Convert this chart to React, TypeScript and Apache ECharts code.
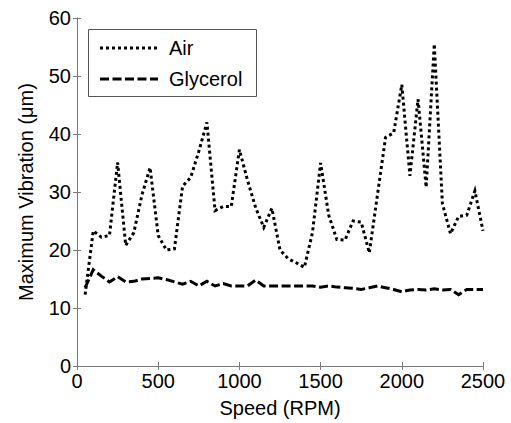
import React, { useEffect, useRef } from "react";
import * as echarts from "echarts";

const speeds = [
  50, 100, 150, 200, 250, 300, 350, 400, 450, 500,
  550, 600, 650, 700, 750, 800, 850, 900, 950, 1000,
  1050, 1100, 1150, 1200, 1250, 1300, 1350, 1400, 1450, 1500,
  1550, 1600, 1650, 1700, 1750, 1800, 1850, 1900, 1950, 2000,
  2050, 2100, 2150, 2200, 2250, 2300, 2350, 2400, 2450, 2500,
];

const airValues = [
  12.3, 23.3, 22.2, 22.5, 35.1, 20.8, 23.0, 29.5, 34.2, 22.5,
  20.0, 20.2, 31.0, 32.5, 37.0, 42.0, 26.8, 27.5, 27.5, 37.3,
  32.0, 27.3, 23.9, 27.2, 20.0, 18.5, 17.8, 17.0, 23.0, 35.0,
  26.0, 21.8, 21.7, 25.0, 24.8, 19.5, 29.5, 39.4, 40.2, 48.5,
  32.8, 46.0, 30.8, 55.5, 28.0, 22.8, 25.8, 26.0, 30.2, 23.3,
];

const glycerolValues = [
  13.5, 16.6, 15.5, 14.5, 15.4, 14.5, 14.6, 15.0, 15.1, 15.2,
  14.9, 14.5, 14.1, 14.6, 13.8, 14.6, 13.8, 14.2, 13.8, 13.8,
  13.8, 14.8, 13.8, 13.8, 13.8, 13.8, 13.8, 13.8, 13.8, 13.6,
  13.8, 13.6, 13.5, 13.4, 13.2, 13.5, 13.8, 13.5, 13.2, 12.8,
  13.1, 13.2, 13.1, 13.3, 13.1, 13.2, 12.3, 13.2, 13.2, 13.2,
];

const seriesNames = ["Air", "Glycerol"];
const xAxisTitle = "Speed (RPM)";
const yAxisTitle = "Maximum Vibration (\u03bcm)";

const FONT = "'Liberation Sans', Arial, Helvetica, sans-serif";
const FS = 20;
const AXIS_GRAY = "#7a7a7a";
const AIR_DASH = [3, 3];
const GLY_DASH = [9, 3.5];

export default function App() {
  const ref = useRef<HTMLDivElement>(null);

  useEffect(() => {
    if (!ref.current) return;
    const chart = echarts.init(ref.current, null, { renderer: "svg" });

    const baseAxis = {
      axisLine: { show: true, lineStyle: { color: AXIS_GRAY, width: 1 } },
      axisTick: { show: true, inside: true, length: 4, lineStyle: { color: AXIS_GRAY } },
      splitLine: { show: false },
    };

    const airData = speeds.map((s, i) => [s, airValues[i]]);
    const glyData = speeds.map((s, i) => [s, glycerolValues[i]]);

    chart.setOption({
      animation: false,
      backgroundColor: "#ffffff",
      textStyle: { fontFamily: FONT },
      grid: { left: 77, top: 18, right: 28, bottom: 55 },
      xAxis: [
        {
          type: "value",
          min: 0,
          max: 2500,
          interval: 500,
          position: "bottom",
          name: xAxisTitle,
          nameLocation: "middle",
          nameGap: 32,
          nameTextStyle: { fontSize: FS, color: "#000", fontFamily: FONT },
          axisLabel: {
            fontSize: FS,
            color: "#000",
            margin: 5,
            fontFamily: FONT,
            formatter: (v: number) => String(v),
          },
          ...baseAxis,
        },
        {
          type: "value",
          min: 0,
          max: 2500,
          interval: 500,
          position: "top",
          axisLabel: { show: false },
          ...baseAxis,
        },
      ],
      yAxis: [
        {
          type: "value",
          min: 0,
          max: 60,
          interval: 10,
          position: "left",
          name: yAxisTitle,
          nameLocation: "middle",
          nameGap: 41,
          nameTextStyle: { fontSize: FS, color: "#000", fontFamily: FONT },
          axisLabel: {
            fontSize: FS,
            color: "#000",
            margin: 6,
            fontFamily: FONT,
            formatter: (v: number) => String(v),
          },
          ...baseAxis,
        },
        {
          type: "value",
          min: 0,
          max: 60,
          interval: 10,
          position: "right",
          axisLabel: { show: false },
          ...baseAxis,
        },
      ],
      series: [
        {
          name: seriesNames[0],
          type: "line",
          xAxisIndex: 0,
          yAxisIndex: 0,
          data: airData,
          showSymbol: false,
          symbol: "none",
          lineStyle: { color: "#000", width: 3, type: AIR_DASH, cap: "butt", join: "miter" },
        },
        {
          name: seriesNames[1],
          type: "line",
          xAxisIndex: 0,
          yAxisIndex: 0,
          data: glyData,
          showSymbol: false,
          symbol: "none",
          lineStyle: { color: "#000", width: 3, type: GLY_DASH, cap: "butt", join: "miter" },
        },
      ],
      graphic: [
        {
          type: "rect",
          left: 88,
          top: 29,
          shape: { width: 168, height: 67 },
          style: { fill: "#fff", stroke: "#555", lineWidth: 1 },
          z: 100,
        },
        {
          type: "line",
          shape: { x1: 100, y1: 48, x2: 158, y2: 48 },
          style: { stroke: "#000", lineWidth: 3, lineDash: AIR_DASH },
          z: 101,
        },
        {
          type: "line",
          shape: { x1: 100, y1: 79, x2: 158, y2: 79 },
          style: { stroke: "#000", lineWidth: 3, lineDash: GLY_DASH },
          z: 101,
        },
        {
          type: "text",
          x: 169,
          y: 48,
          style: {
            text: seriesNames[0],
            fontSize: FS,
            fontFamily: FONT,
            fill: "#000",
            verticalAlign: "middle",
            align: "left",
          },
          z: 101,
        },
        {
          type: "text",
          x: 169,
          y: 79,
          style: {
            text: seriesNames[1],
            fontSize: FS,
            fontFamily: FONT,
            fill: "#000",
            verticalAlign: "middle",
            align: "left",
          },
          z: 101,
        },
      ],
    });

    return () => chart.dispose();
  }, []);

  return (
    <div
      ref={ref}
      style={{ position: "fixed", left: 0, top: 0, width: 511, height: 423, background: "#fff" }}
    />
  );
}
